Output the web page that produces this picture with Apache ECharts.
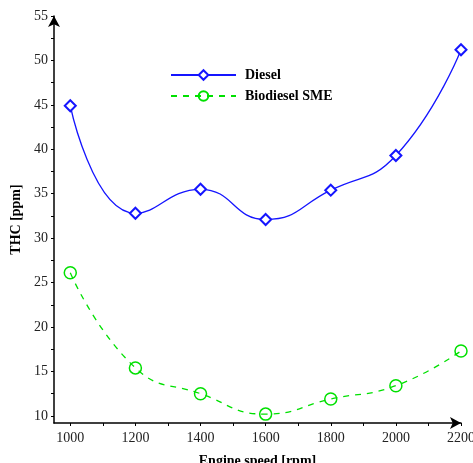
<!DOCTYPE html>
<html>
<head>
<meta charset="utf-8">
<script src="https://cdn.jsdelivr.net/npm/echarts@6/dist/echarts.min.js"></script>
<style>
  html, body { margin: 0; padding: 0; background: #fff; }
  #chart { width: 473px; height: 463px; }
</style>
</head>
<body>
<div id="chart"></div>
<script>
// engine speed [rpm]
var speeds = [1000, 1200, 1400, 1600, 1800, 2000, 2200]
// THC [ppm]
var diesel = [44.9, 32.8, 35.5, 32.1, 35.4, 39.3, 51.2]
var biodieselSME = [26.1, 15.4, 12.5, 10.2, 11.9, 13.4, 17.3]

var xLabels = [1000, 1200, 1400, 1600, 1800, 2000, 2200]
var xTicks = [1000, 1100, 1200, 1300, 1400, 1500, 1600, 1700, 1800, 1900, 2000, 2100, 2200]
var yLabels = [10, 15, 20, 25, 30, 35, 40, 45, 50, 55]
var yTicks = [10, 12.5, 15, 17.5, 20, 22.5, 25, 27.5, 30, 32.5, 35, 37.5, 40, 42.5, 45, 47.5, 50, 52.5, 55]

var font = 'Liberation Serif, Times New Roman, serif'

function pairs(ys) {
  return speeds.map(function (s, i) { return [s, ys[i]] })
}

var chart = echarts.init(document.getElementById('chart'))
chart.setOption({
  animation: false,
  textStyle: { fontFamily: font },
  grid: { left: 54, right: 12, top: 16, bottom: 40, outerBoundsMode: 'none', containLabel: false },
  legend: {
    orient: 'vertical',
    left: 165,
    top: 63,
    itemWidth: 65,
    itemHeight: 12,
    itemGap: 7,
    textStyle: { fontFamily: font, fontSize: 14, fontWeight: 'bold', color: '#000', padding: [0, 0, 0, 4] },
    data: ['Diesel', 'Biodiesel SME']
  },
  xAxis: {
    type: 'value',
    min: 950,
    max: 2200,
    name: 'Engine speed [rpm]',
    nameLocation: 'middle',
    nameGap: 31,
    nameTextStyle: { fontFamily: font, fontSize: 14, fontWeight: 'bold', color: '#000' },
    axisLine: { lineStyle: { color: '#000', width: 1.5 }, symbol: ['none', 'arrow'], symbolSize: [9, 11] },
    axisTick: { customValues: xTicks, length: 3, lineStyle: { color: '#000' } },
    axisLabel: { customValues: xLabels, formatter: function (v) { return String(v) }, color: '#222', fontFamily: font, fontSize: 14, margin: 8 },
    splitLine: { show: false }
  },
  yAxis: {
    type: 'value',
    min: 9.2,
    max: 55,
    name: 'THC [ppm]',
    nameLocation: 'middle',
    nameGap: 29,
    nameTextStyle: { fontFamily: font, fontSize: 14, fontWeight: 'bold', color: '#000' },
    axisLine: { show: true, lineStyle: { color: '#000', width: 1.5 }, symbol: ['none', 'arrow'], symbolSize: [9, 11] },
    axisTick: { show: true, customValues: yTicks, length: 3, lineStyle: { color: '#000' } },
    axisLabel: { customValues: yLabels, formatter: function (v) { return String(v) }, color: '#222', fontFamily: font, fontSize: 14, margin: 6 },
    splitLine: { show: false }
  },
  series: [
    {
      name: 'Diesel',
      type: 'line',
      data: pairs(diesel),
      smooth: 0.5,
      symbol: 'diamond',
      symbolSize: 11,
      itemStyle: { color: '#fff', borderColor: '#1515ff', borderWidth: 2 },
      lineStyle: { color: '#1515ff', width: 1.3 },
      emphasis: { disabled: true }
    },
    {
      name: 'Biodiesel SME',
      type: 'line',
      data: pairs(biodieselSME),
      smooth: 0.5,
      symbol: 'circle',
      symbolSize: 12,
      itemStyle: { color: 'rgba(255,255,255,0)', borderColor: '#00e000', borderWidth: 1.5 },
      lineStyle: { color: '#00e000', width: 1.3, type: [6, 6] },
      emphasis: { disabled: true }
    }
  ]
})
</script>
</body>
</html>
